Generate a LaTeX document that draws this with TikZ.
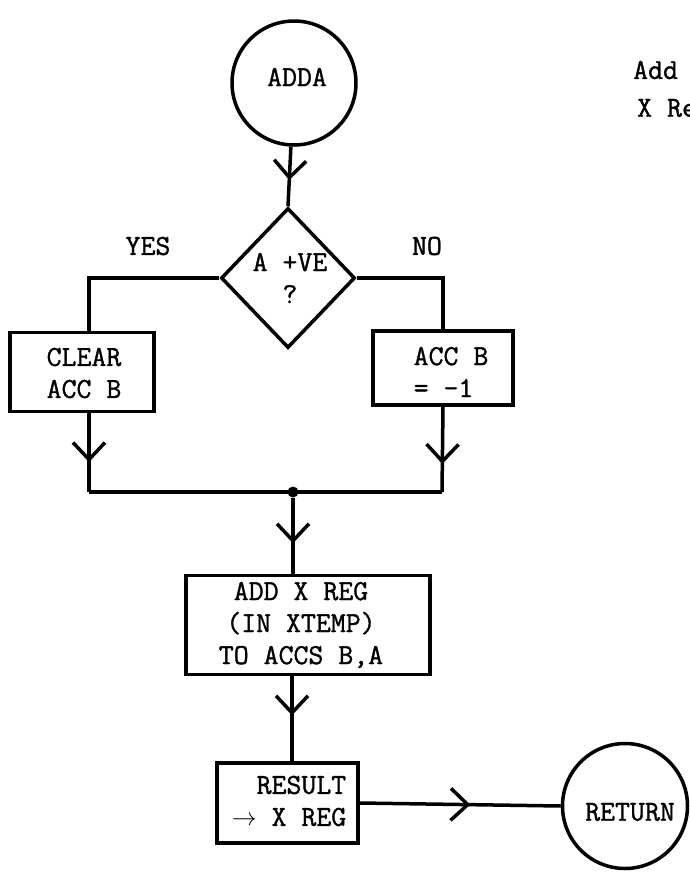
\documentclass[tikz,border=0pt]{standalone}
\usepackage{fontspec}
\newfontfamily\tw{Latin Modern Mono}[FakeBold=1.2]
\usetikzlibrary{shapes.geometric,arrows.meta,decorations.markings}
\tikzset{
  conn/.style={line width=3.5pt},
  midarr/.style={postaction={decorate},
    decoration={markings, mark=at position #1 with {\arrow{Straight Barb[length=17pt,width=32pt,line width=3.5pt]}}}},
  boxn/.style={draw, line width=3.5pt, rectangle, inner sep=0pt},
  circn/.style={draw, line width=3.5pt, circle, inner sep=0pt},
  txt/.style={font=\tw\fontsize{29}{32}\selectfont, inner sep=0pt},
}
\begin{document}
\begin{tikzpicture}[x=1pt,y=-1pt]
\useasboundingbox (0,0) rectangle (690,876);
% nodes
\node[circn, minimum size=124pt] (adda) at (294,83) {};
\node[txt] (addat) at (297,77) {ADDA};
\node[draw, diamond, line width=3.5pt, inner sep=0pt, minimum width=134pt, minimum height=140pt] (dec) at (288,278) {};
\node[txt, align=center] (dect) at (290,278) {A +VE\\?};
\node[txt] (yes) at (148,246) {YES};
\node[txt] (no) at (427,246) {NO};
\node[boxn, minimum width=144pt, minimum height=79pt] (clear) at (82,372) {};
\node[txt, align=center] (cleart) at (84,373) {CLEAR\\ACC B};
\node[boxn, minimum width=140pt, minimum height=74pt] (accb) at (443,368) {};
\node[txt, align=left] (accbt) at (451,372) {ACC B\\= -1};
\node[circle, fill, inner sep=0pt, minimum size=11pt] (j) at (293,492) {};
\coordinate (jl) at (89,492);
\coordinate (jr) at (442,492);
\node[boxn, minimum width=244pt, minimum height=99pt] (add) at (308,625) {};
\node[txt, align=center] (addt) at (301,625) {ADD X REG\\(IN XTEMP)\\TO ACCS B,A};
\node[boxn, minimum width=141pt, minimum height=80pt] (res) at (287.5,803) {};
\node[txt, align=right] (rest) at (289,801) {RESULT\\$\rightarrow$ X REG};
\node[circn, minimum size=125pt] (ret) at (625,806) {};
\node[txt] (rett) at (630,812) {RETURN};
\node[txt, anchor=west] (note1) at (633,70) {Add};
\node[txt, anchor=west] (note2) at (637,108) {X Re};
% connectors
\draw[conn, midarr=0.56] (adda) -- (dec.north);
\draw[conn] (dec.west) -| ([xshift=7pt]clear.north);
\draw[conn] (dec.east) -| (accb.north);
\draw[conn, midarr=0.62] ([xshift=7pt]clear.south) -- (jl);
\draw[conn, midarr=0.67] (accb.south) -- (jr);
\draw[conn] (jl) -- (jr);
\draw[conn, midarr=0.6] (j) -- (j |- add.north);
\draw[conn, midarr=0.46] ([xshift=-16pt]add.south) -- ([xshift=-16pt]add.south |- res.north);
\draw[conn, midarr=0.55] (res.east) -- (ret.west);
\end{tikzpicture}
\end{document}
